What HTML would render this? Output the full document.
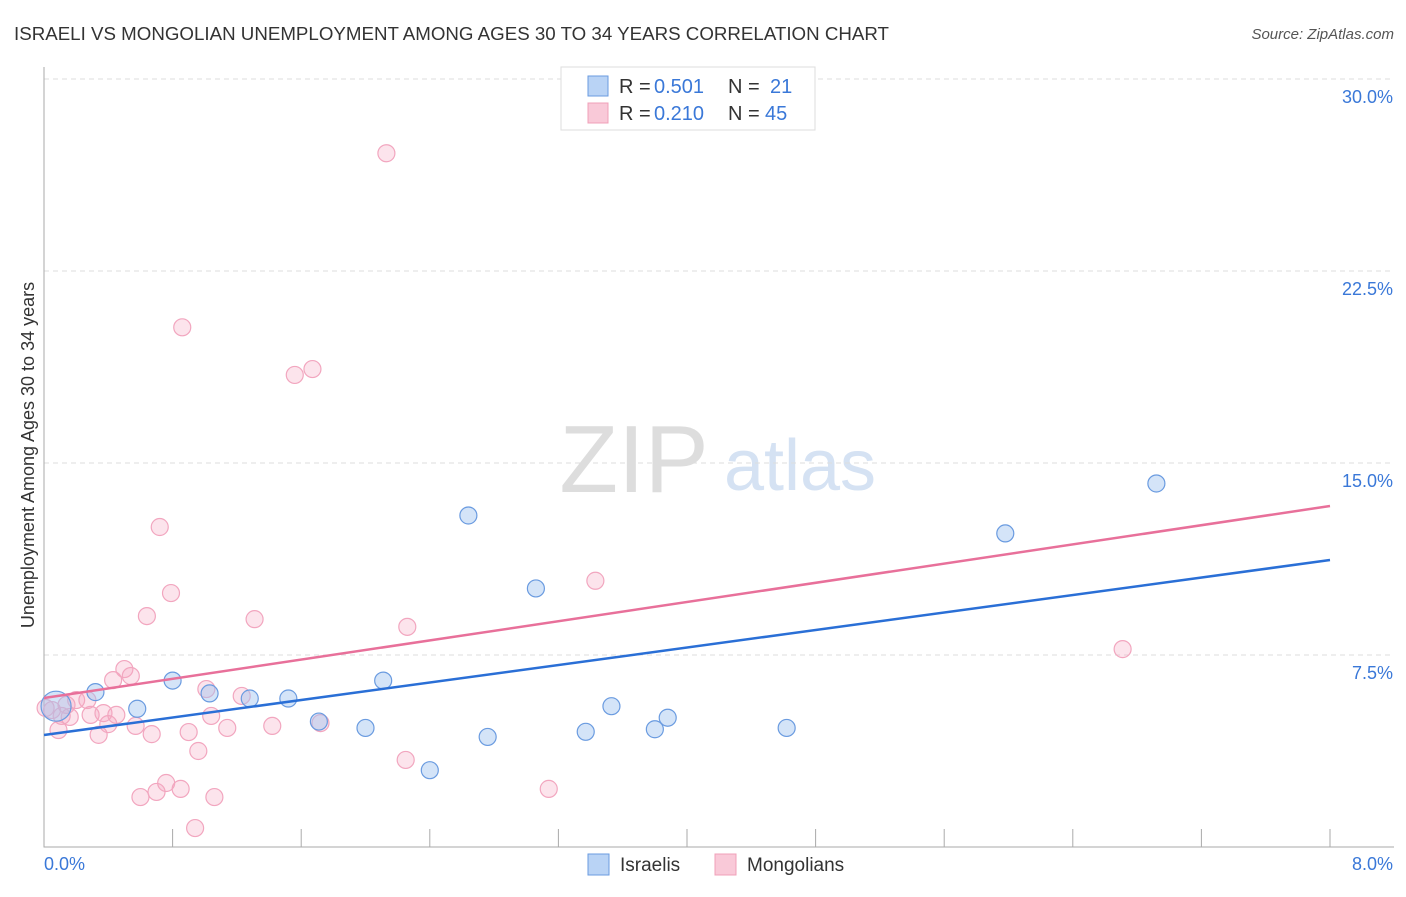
<!DOCTYPE html>
<html><head><meta charset="utf-8"><style>
body{margin:0;background:#fff;font-family:"Liberation Sans",sans-serif;}
svg text{font-family:"Liberation Sans",sans-serif;}
</style></head><body>
<svg width="1406" height="892" id="chart">
<text x="14" y="40" font-size="18" fill="#333" textLength="875" lengthAdjust="spacingAndGlyphs">ISRAELI VS MONGOLIAN UNEMPLOYMENT AMONG AGES 30 TO 34 YEARS CORRELATION CHART</text>
<text x="1394" y="39" font-size="15" fill="#555" text-anchor="end" font-style="italic">Source: ZipAtlas.com</text>
<text x="634" y="492" font-size="96" fill="#ddd" font-family="Liberation Serif" text-anchor="middle">ZIP</text>
<text x="800" y="490" font-size="72" fill="#d5e2f3" text-anchor="middle">atlas</text>
<text transform="translate(34,455) rotate(-90)" font-size="18" fill="#333" text-anchor="middle">Unemployment Among Ages 30 to 34 years</text>
<g id="grid"></g><g id="axes"></g><g id="marks"></g>
<g>
<rect x="561" y="67" width="254" height="63" fill="#fff" stroke="#ddd"/>
<rect x="588" y="76" width="20" height="20" fill="#b9d3f5" stroke="#6a9be0"/>
<rect x="588" y="103" width="20" height="20" fill="#f9c9d8" stroke="#f0a0b8"/>
<text x="619" y="93" font-size="20" fill="#333">R =</text>
<text x="654" y="93" font-size="20" fill="#3a78d8">0.501</text>
<text x="728" y="93" font-size="20" fill="#333">N =</text>
<text x="770" y="93" font-size="20" fill="#3a78d8">21</text>
<text x="619" y="120" font-size="20" fill="#333">R =</text>
<text x="654" y="120" font-size="20" fill="#3a78d8">0.210</text>
<text x="728" y="120" font-size="20" fill="#333">N =</text>
<text x="765" y="120" font-size="20" fill="#3a78d8">45</text>
</g>
<g>
<rect x="588" y="854" width="21" height="21" fill="#b9d3f5" stroke="#6a9be0"/>
<text x="620" y="871" font-size="19" fill="#333">Israelis</text>
<rect x="715" y="854" width="21" height="21" fill="#f9c9d8" stroke="#f0a0b8"/>
<text x="747" y="871" font-size="19" fill="#333">Mongolians</text>
</g>
</svg>
<script>
const yTicks=[7.5,15.0,22.5,30.0];
const xTickLabels=["0.0%","8.0%"];
const isrX=[0.075,0.32,0.58,0.80,1.03,1.28,1.52,1.71,2.00,2.11,2.40,2.64,2.76,3.06,3.37,3.53,3.80,3.88,4.62,5.98,6.92];
const isrY=[5.5,6.05,5.4,6.5,6.0,5.8,5.8,4.9,4.65,6.5,3.0,12.95,4.3,10.1,4.5,5.5,4.6,5.05,4.65,12.25,14.2];
const monX=[0.05,0.09,0.11,0.16,0.20,0.27,0.29,0.34,0.37,0.40,0.43,0.45,0.50,0.54,0.57,0.60,0.64,0.67,0.70,0.72,0.76,0.79,0.85,0.86,0.90,0.94,0.96,1.01,1.04,1.06,1.14,1.23,1.31,1.42,1.56,1.67,1.72,2.13,2.25,2.26,3.14,3.43,6.71,0.01,0.14];
const monY=[5.35,4.57,5.12,5.08,5.74,5.74,5.16,4.38,5.23,4.8,6.52,5.16,6.95,6.68,4.73,1.95,9.02,4.41,2.15,12.5,2.5,9.92,2.27,20.3,4.49,0.74,3.75,6.17,5.12,1.95,4.65,5.9,8.9,4.73,18.44,18.67,4.84,27.1,3.4,8.6,2.27,10.4,7.73,5.43,5.55];
const isrTrend=[4.375,11.21];
const monTrend=[5.82,13.32];
const X=v=>44+v*160.75, Y=v=>847-v*25.6;
const NS="http://www.w3.org/2000/svg";
function mk(t,a,p){const e=document.createElementNS(NS,t);for(const k in a)e.setAttribute(k,a[k]);p.appendChild(e);return e;}
const grid=document.getElementById('grid'),axes=document.getElementById('axes'),marks=document.getElementById('marks');
yTicks.forEach(t=>{
 const l=mk('line',{x1:44,x2:1394,y1:Y(t),y2:Y(t),stroke:'#ddd','stroke-dasharray':'5,4'},grid);
 
 
 const tx=mk('text',{x:1393,y:Y(t)+24,'font-size':18,fill:'#3a78d8','text-anchor':'end'},grid);
 tx.textContent=t.toFixed(1)+'%';
 
 
});
const ax=mk('path',{d:'M44,67V847H1394',fill:'none',stroke:'#aaa'},axes);


for(let i=1;i<=10;i++){const tk=mk('line',{x1:X(i*0.8),x2:X(i*0.8),y1:829,y2:847,stroke:'#aaa'},axes);
 
 }
[[X(0),'start',xTickLabels[0]],[1393,'end',xTickLabels[1]]].forEach(([x,a,s])=>{
 const t=mk('text',{x:x,y:870,'font-size':18,fill:'#3a78d8','text-anchor':a},axes);t.textContent=s;
 
 
});
monX.forEach((x,i)=>{const c=mk('circle',{cx:X(x),cy:Y(monY[i]),r:8.5,fill:'rgba(245,165,192,0.3)',stroke:'#f2a6bf','stroke-width':1.2},marks);
 
 });
isrX.forEach((x,i)=>{const c=mk('circle',{cx:X(x),cy:Y(isrY[i]),r:i===0?15:8.5,fill:'rgba(160,195,240,0.45)',stroke:'#6a9be0','stroke-width':1.2},marks);
 
 });
const l1=mk('line',{x1:X(0),y1:Y(isrTrend[0]),x2:X(8),y2:Y(isrTrend[1]),stroke:'#2a6fd6','stroke-width':2.5},marks);


const l2=mk('line',{x1:X(0),y1:Y(monTrend[0]),x2:X(8),y2:Y(monTrend[1]),stroke:'#e8709a','stroke-width':2.5},marks);


</script>
</body></html>
